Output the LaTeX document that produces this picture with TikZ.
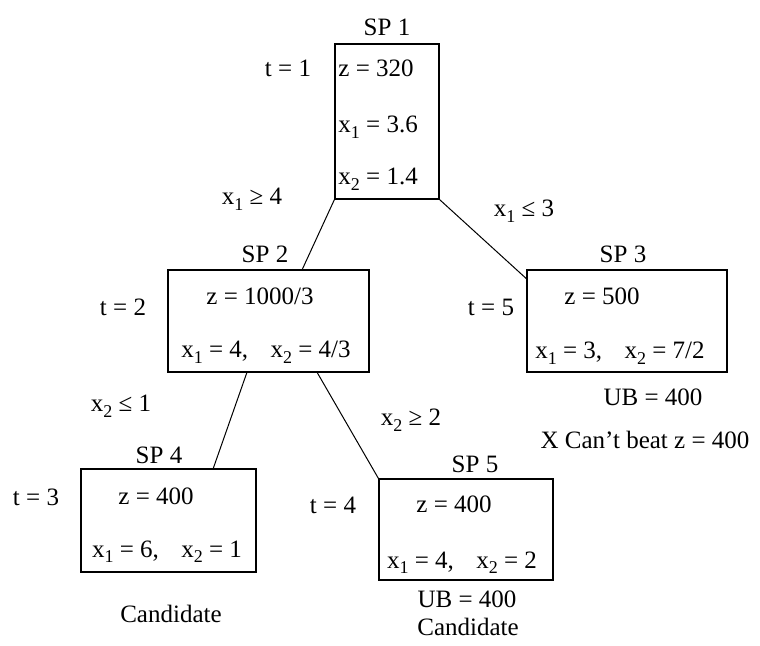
\documentclass[tikz,border=0pt]{standalone}
\usepackage{fontspec}
\setmainfont{Liberation Serif}
\usetikzlibrary{calc}
\newcommand{\xsub}[2]{#1\raisebox{-0.5ex}{\fontsize{9}{10}\selectfont #2}}
\tikzset{
  spbox/.style={draw, line width=0.6pt, inner sep=0pt},
  txt/.style={anchor=base, inner sep=0pt, font=\fontsize{12.5}{15}\selectfont},
  branch/.style={line width=0.5pt},
}

\begin{document}
\begin{tikzpicture}[x=0.5pt,y=-0.5pt]
  \useasboundingbox (0,0) rectangle (760,646);
  % subproblem boxes
  \node[spbox, minimum width=52pt, minimum height=77.5pt] (sp1) at (387,121.5) {};
  \node[spbox, minimum width=100.5pt, minimum height=51pt] (sp2) at (268.5,321) {};
  \node[spbox, minimum width=100pt, minimum height=51pt] (sp3) at (627,321) {};
  \node[spbox, minimum width=87.5pt, minimum height=51.5pt] (sp4) at (168.5,520.5) {};
  \node[spbox, minimum width=87pt, minimum height=50.5pt] (sp5) at (466,529.5) {};

  % SP 1
  \node[txt] (sp1t) at (387,36) {SP 1};
  \node[txt] (t1) at (288,77) {t = 1};
  \node[txt, anchor=base west] (sp1z) at (338,77) {z = 320};
  \node[txt, anchor=base west] (sp1a) at (338,133) {\xsub{x}{1} = 3.6};
  \node[txt, anchor=base west] (sp1b) at (338,185) {\xsub{x}{2} = 1.4};

  % SP 2
  \node[txt] (sp2t) at (265,263) {SP 2};
  \node[txt] (t2) at (123,316) {t = 2};
  \node[txt] (sp2z) at (260,305) {z = 1000/3};
  \node[txt] (sp2x) at (266,358) {\xsub{x}{1} = 4,\hspace{0.9em}\xsub{x}{2} = 4/3};

  % SP 3
  \node[txt] (sp3t) at (623,263) {SP 3};
  \node[txt] (t5) at (491,316) {t = 5};
  \node[txt] (sp3z) at (602,305) {z = 500};
  \node[txt] (sp3x) at (620,359) {\xsub{x}{1} = 3,\hspace{0.9em}\xsub{x}{2} = 7/2};
  \node[txt] (sp3ub) at (653,406) {UB = 400};
  \node[txt] (sp3note) at (645,448) {X Can’t beat z = 400};

  % SP 4
  \node[txt] (sp4t) at (159,463) {SP 4};
  \node[txt] (t3) at (36,505) {t = 3};
  \node[txt] (sp4z) at (156,504) {z = 400};
  \node[txt] (sp4x) at (167,557) {\xsub{x}{1} = 6,\hspace{0.9em}\xsub{x}{2} = 1};
  \node[txt] (sp4c) at (171,622) {Candidate};

  % SP 5
  \node[txt] (sp5t) at (475,473) {SP 5};
  \node[txt] (t4) at (333,513) {t = 4};
  \node[txt] (sp5z) at (454,512) {z = 400};
  \node[txt] (sp5x) at (462,568) {\xsub{x}{1} = 4,\hspace{0.9em}\xsub{x}{2} = 2};
  \node[txt] (sp5ub) at (467,607) {UB = 400};
  \node[txt] (sp5c) at (468,635) {Candidate};

  % branching constraints
  \node[txt] (b12) at (252,205) {\xsub{x}{1} ≥ 4};
  \node[txt] (b13) at (524,217) {\xsub{x}{1} ≤ 3};
  \node[txt] (b24) at (121,412) {\xsub{x}{2} ≤ 1};
  \node[txt] (b25) at (411,426) {\xsub{x}{2} ≥ 2};

  % tree edges
  \draw[branch] (sp1.south west) -- ($(sp2.north west)!0.667!(sp2.north east)$);
  \draw[branch] (sp1.south east) -- ($(sp3.north west)!0.09!(sp3.south west)$);
  \draw[branch] ($(sp2.south west)!0.393!(sp2.south east)$) -- ($(sp4.north west)!0.754!(sp4.north east)$);
  \draw[branch] ($(sp2.south west)!0.741!(sp2.south east)$) -- (sp5.north west);
\end{tikzpicture}
\end{document}
